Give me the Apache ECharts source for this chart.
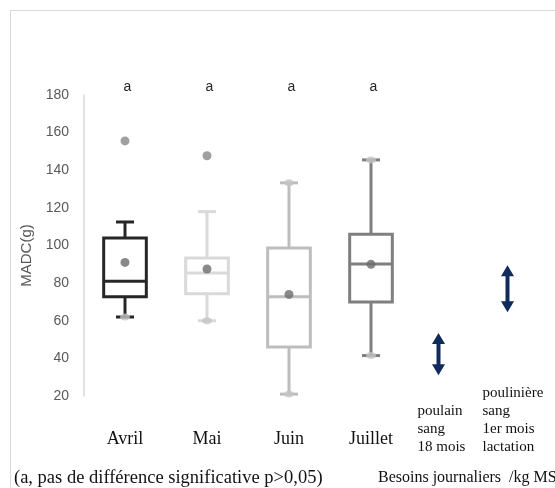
<!DOCTYPE html>
<html>
<head>
<meta charset="utf-8">
<script src="https://cdn.jsdelivr.net/npm/echarts@6/dist/echarts.min.js"></script>
<style>html,body{margin:0;padding:0;background:#fff;}#c{width:555px;height:488px;}</style>
</head>
<body>
<div id="c"></div>
<script>
// ---- data ----
var categories = ['Avril', 'Mai', 'Juin', 'Juillet'];
var letters = ['a', 'a', 'a', 'a'];
var whiskerLow = [62, 60, 21, 41.5];
var q1 = [72.7, 74.3, 46, 70];
var median = [81, 85.4, 72.7, 90.2];
var q3 = [104, 93.4, 98.7, 106];
var whiskerHigh = [112.5, 118, 133.3, 145.5];
var means = [91, 87.5, 74, 90];
var outliers = [[155.6], [147.7], [], []];
var innerPoints = [[62], [60], [133.3, 21], [145.5, 41.5]];
var yTicks = [20, 40, 60, 80, 100, 120, 140, 160, 180];
var needCategories = [['poulain', 'sang', '18 mois'], ['poulinière', 'sang', '1er mois', 'lactation']];
var needLow = [31, 64.5];
var needHigh = [53.5, 89.5];

// ---- styles ----
var boxColors = ['#262626', '#d9d9d9', '#bdbdbd', '#7f7f7f'];
var serif = '"Liberation Serif", "Times New Roman", serif';
var sans = '"Liberation Sans", Arial, sans-serif';

var boxData = categories.map(function (c, i) {
  return [i, whiskerLow[i], q1[i], median[i], q3[i], whiskerHigh[i]];
});
var meanData = means.map(function (v, i) { return [i, v]; });
var outlierData = [];
outliers.forEach(function (arr, i) { arr.forEach(function (v) { outlierData.push([i, v]); }); });
var innerData = [];
innerPoints.forEach(function (arr, i) { arr.forEach(function (v) { innerData.push([i, v]); }); });
var needData = needLow.map(function (v, i) { return [i, v, needHigh[i]]; });

function renderBox(params, api) {
  var i = api.value(0);
  var color = boxColors[params.dataIndex];
  var bw = api.size([1, 0])[0] * 0.52;
  var cw = api.size([1, 0])[0] * 0.22;
  var pLow = api.coord([i, api.value(1)]);
  var pQ1 = api.coord([i, api.value(2)]);
  var pMed = api.coord([i, api.value(3)]);
  var pQ3 = api.coord([i, api.value(4)]);
  var pHigh = api.coord([i, api.value(5)]);
  var x = pQ1[0];
  var st = { stroke: color, lineWidth: 3, fill: null };
  return {
    type: 'group',
    children: [
      { type: 'line', shape: { x1: x, y1: pQ3[1], x2: x, y2: pHigh[1] }, style: st },
      { type: 'line', shape: { x1: x, y1: pQ1[1], x2: x, y2: pLow[1] }, style: st },
      { type: 'line', shape: { x1: x - cw / 2, y1: pHigh[1], x2: x + cw / 2, y2: pHigh[1] }, style: st },
      { type: 'line', shape: { x1: x - cw / 2, y1: pLow[1], x2: x + cw / 2, y2: pLow[1] }, style: st },
      { type: 'rect', shape: { x: x - bw / 2, y: pQ3[1], width: bw, height: pQ1[1] - pQ3[1] }, style: { stroke: color, lineWidth: 3, fill: '#fff' } },
      { type: 'line', shape: { x1: x - bw / 2, y1: pMed[1], x2: x + bw / 2, y2: pMed[1] }, style: st }
    ]
  };
}

function renderArrow(params, api) {
  var i = api.value(0);
  var pL = api.coord([i, api.value(1)]);
  var pH = api.coord([i, api.value(2)]);
  var x = pL[0];
  var col = '#0f2a5c';
  var hw = 6.5, hh = 11;
  return {
    type: 'group',
    children: [
      { type: 'line', shape: { x1: x, y1: pH[1] + hh - 1, x2: x, y2: pL[1] - hh + 1 }, style: { stroke: col, lineWidth: 4 } },
      { type: 'polygon', shape: { points: [[x, pH[1]], [x - hw, pH[1] + hh], [x + hw, pH[1] + hh]] }, style: { fill: col } },
      { type: 'polygon', shape: { points: [[x, pL[1]], [x - hw, pL[1] - hh], [x + hw, pL[1] - hh]] }, style: { fill: col } }
    ]
  };
}

var chart = echarts.init(document.getElementById('c'), null, { renderer: 'canvas' });
chart.setOption({
  backgroundColor: '#fff',
  animation: false,
  grid: [
    { left: 84, top: 95, width: 328, height: 301 },
    { left: 404, top: 95, width: 138, height: 301 }
  ],
  xAxis: [
    {
      type: 'category', gridIndex: 0, data: categories,
      axisLine: { show: false }, axisTick: { show: false }, splitLine: { show: false },
      axisLabel: { margin: 43, verticalAlign: 'middle', color: '#111', fontFamily: serif, fontSize: 18 }
    },
    {
      type: 'category', gridIndex: 0, position: 'top', data: letters,
      axisLine: { show: false }, axisTick: { show: false },
      axisLabel: { margin: 8, verticalAlign: 'middle', color: '#262626', fontFamily: sans, fontSize: 14, padding: [0, 0, 0, 5] }
    },
    {
      type: 'category', gridIndex: 1,
      data: needCategories.map(function (l) { return l.join('\n'); }),
      axisLine: { show: false }, axisTick: { show: false },
      axisLabel: {
        margin: 60, verticalAlign: 'bottom', interval: 0,
        color: '#111', fontFamily: serif, fontSize: 15, lineHeight: 18,
        formatter: function (v, idx) {
          var st = idx === 0 ? 'p' : 'q';
          return v.split('\n').map(function (s) { return '{' + st + '|' + s + '}'; }).join('\n');
        },
        rich: {
          p: { width: 42, align: 'left', fontFamily: serif, fontSize: 15, lineHeight: 18, color: '#111' },
          q: { width: 50, align: 'left', fontFamily: serif, fontSize: 15, lineHeight: 18, color: '#111' }
        }
      }
    }
  ],
  yAxis: [
    {
      type: 'value', gridIndex: 0, min: yTicks[0], max: yTicks[yTicks.length - 1], interval: 20,
      name: 'MADC(g)', nameLocation: 'middle', nameGap: 47,
      nameTextStyle: { color: '#595959', fontFamily: sans, fontSize: 15, padding: [0, 20, 0, 0] },
      axisLine: { show: true, lineStyle: { color: '#d9d9d9', width: 1.5 } },
      axisTick: { show: false }, splitLine: { show: false },
      axisLabel: { margin: 15, color: '#595959', fontFamily: sans, fontSize: 14 }
    },
    { type: 'value', gridIndex: 1, min: yTicks[0], max: yTicks[yTicks.length - 1], show: false }
  ],
  series: [
    { type: 'custom', xAxisIndex: 0, yAxisIndex: 0, renderItem: renderBox, data: boxData, encode: { x: 0, y: [1, 2, 3, 4, 5] }, clip: false, z: 2 },
    { type: 'scatter', xAxisIndex: 0, yAxisIndex: 0, data: innerData, symbol: 'circle', symbolSize: [10, 7], itemStyle: { color: '#c4c4c4' }, z: 3 },
    { type: 'scatter', xAxisIndex: 0, yAxisIndex: 0, data: meanData, symbolSize: 9, itemStyle: { color: '#6b6b6b' }, z: 4 },
    { type: 'scatter', xAxisIndex: 0, yAxisIndex: 0, data: outlierData, symbolSize: 9, itemStyle: { color: '#888888' }, z: 4 },
    { type: 'custom', xAxisIndex: 2, yAxisIndex: 1, renderItem: renderArrow, data: needData, encode: { x: 0, y: [1, 2] }, clip: false, z: 2 }
  ],
  graphic: [
    { type: 'line', shape: { x1: 10, y1: 10.5, x2: 555, y2: 10.5 }, style: { stroke: '#d9d9d9', lineWidth: 1 } },
    { type: 'line', shape: { x1: 10.5, y1: 10, x2: 10.5, y2: 488 }, style: { stroke: '#d9d9d9', lineWidth: 1 } },
    { type: 'text', left: 14, top: 469, style: { text: '(a, pas de différence significative p>0,05)', font: '18.5px ' + serif, fill: '#111' } },
    { type: 'text', left: 378, top: 470, style: { text: 'Besoins journaliers  /kg MS', font: '16px ' + serif, fill: '#111' } }
  ]
});
</script>
</body>
</html>
